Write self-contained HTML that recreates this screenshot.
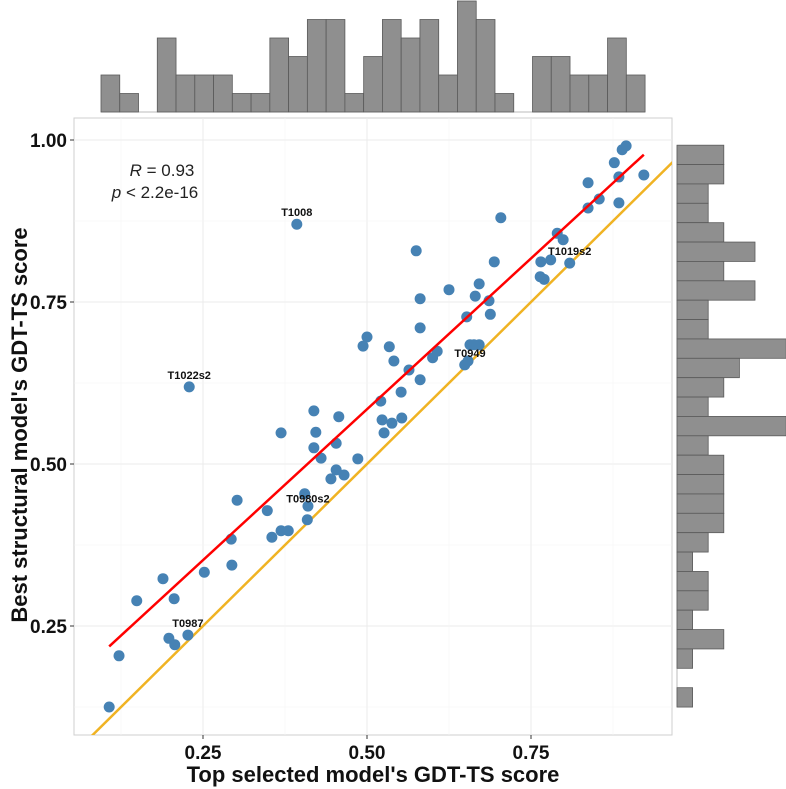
<!DOCTYPE html>
<html><head><meta charset="utf-8"><style>
body{margin:0;background:#fff;}
svg{display:block;font-family:"Liberation Sans",Arial,sans-serif;}
</style></head><body>
<svg id="c" width="786" height="789" viewBox="0 0 786 789"></svg>
<script>
const xs=[.107,.122,.149,.189,.198,.206,.207,.227,.252,.293,.294,.302,.348,.355,.369,.380,.409,.410,.229,.393,
.369,.419,.422,.419,.430,.457,.453,.453,.445,.465,.486,.405,
.500,.494,.534,.541,.581,.564,.581,.600,.552,.521,.523,.538,.553,.526,
.575,.607,.704,.694,.625,.581,.671,.665,.686,.688,.652,.657,.671,.663,.649,.654,
.790,.799,.765,.780,.809,.764,.770,.837,.854,.837,.884,.877,.884,.889,.895,.922];
const ys=[.125,.204,.289,.323,.231,.292,.221,.236,.333,.384,.344,.444,.428,.387,.397,.397,.414,.435,.619,.870,
.548,.582,.549,.525,.509,.573,.532,.491,.477,.483,.508,.454,
.696,.682,.681,.659,.710,.645,.630,.664,.611,.597,.568,.563,.571,.548,
.829,.674,.880,.812,.769,.755,.778,.759,.752,.731,.727,.684,.684,.684,.653,.659,
.856,.846,.812,.815,.810,.789,.785,.934,.909,.895,.903,.965,.943,.985,.991,.946];
const labelNames=["T1008","T1022s2","T0980s2","T0987","T0949","T1019s2"];
const labelX=[.393,.229,.410,.227,.657,.809];
const labelY=[.870,.619,.428,.236,.653,.810];
const topCounts=[2,1,0,4,2,2,2,1,1,4,3,5,5,1,3,5,4,5,2,6,5,1,0,3,3,2,2,4,2];
const rightCounts=[3,3,2,2,3,5,3,5,2,2,7,4,3,2,7,2,3,3,3,3,2,1,2,2,1,3,1,0,1];
const xTicks=[0.25,0.5,0.75];
const yTicks=[0.25,0.5,0.75,1.0];
const xTickLabels=["0.25","0.50","0.75"];
const yTickLabels=["0.25","0.50","0.75","1.00"];

const NS="http://www.w3.org/2000/svg";
const svg=document.getElementById('c');
const PL=74,PR=672,PT=118,PB=735;
const sx=v=>39+v*656, sy=v=>788-v*648;
function mk(t,a,p){const e=document.createElementNS(NS,t);for(const k in a)e.setAttribute(k,a[k]);(p||svg).appendChild(e);return e;}

const panel=mk('rect',{x:PL,y:PT,width:PR-PL,height:PB-PT,fill:'#fff',stroke:'#cfcfcf','stroke-width':1});


const grid=mk('g',{});


for(let v=0.125;v<1.01;v+=0.125){
  const major=Math.abs(v*4-Math.round(v*4))<1e-6;
  const X=sx(v); if(X>PL&&X<PR) mk('line',{x1:X,x2:X,y1:PT,y2:PB,stroke:major?'#ebebeb':'#f5f5f5','stroke-width':major?1:0.6},grid);
  const Y=sy(v); if(Y>PT&&Y<PB) mk('line',{x1:PL,x2:PR,y1:Y,y2:Y,stroke:major?'#ebebeb':'#f5f5f5','stroke-width':major?1:0.6},grid);
}
const defs=mk('defs',{});
const cp=mk('clipPath',{id:'pc'},defs);
mk('rect',{x:PL,y:PT,width:PR-PL,height:PB-PT},cp);

const idl=mk('line',{x1:sx(0),y1:sy(0),x2:sx(1.1),y2:sy(1.1),stroke:'#f0b323','stroke-width':2.5,'clip-path':'url(#pc)'});



const pts=mk('g',{});


for(let i=0;i<xs.length;i++){
  const c=mk('circle',{cx:sx(xs[i]),cy:sy(ys[i]),r:5.5,fill:'#4682b4'},pts);
  
  
}
let n=xs.length,mx=0,my=0;for(let i=0;i<n;i++){mx+=xs[i];my+=ys[i];}mx/=n;my/=n;
let sxy=0,sxx=0;for(let i=0;i<n;i++){sxy+=(xs[i]-mx)*(ys[i]-my);sxx+=(xs[i]-mx)**2;}
const b=sxy/sxx,a=my-b*mx;const x0=Math.min(...xs),x1=Math.max(...xs);
const reg=mk('line',{x1:sx(x0),y1:sy(a+b*x0),x2:sx(x1),y2:sy(a+b*x1),stroke:'#ff0000','stroke-width':2.5});



for(let i=0;i<labelNames.length;i++){
  const t=mk('text',{x:sx(labelX[i]),y:sy(labelY[i])-8,'text-anchor':'middle','font-size':11,'font-weight':'bold',fill:'#111'});
  t.textContent=labelNames[i];
  
  
}
const st=mk('text',{x:162,y:176,'text-anchor':'middle','font-size':17,fill:'#222'});
st.innerHTML='<tspan font-style="italic">R</tspan> = 0.93';


const st2=mk('text',{x:155,y:198,'text-anchor':'middle','font-size':17,fill:'#222'});
st2.innerHTML='<tspan font-style="italic">p</tspan> &lt; 2.2e-16';



for(let i=0;i<xTicks.length;i++){
  const X=sx(xTicks[i]);
  mk('line',{x1:X,x2:X,y1:PB,y2:PB+4,stroke:'#333'});
  const t=mk('text',{x:X,y:PB+24,'text-anchor':'middle','font-size':19,'font-weight':'bold',fill:'#111'});
  t.textContent=xTickLabels[i];
  
  
}
for(let i=0;i<yTicks.length;i++){
  const Y=sy(yTicks[i]);
  mk('line',{x1:PL-4,x2:PL,y1:Y,y2:Y,stroke:'#333'});
  const t=mk('text',{x:PL-7,y:Y+7,'text-anchor':'end','font-size':19,'font-weight':'bold',fill:'#111'});
  t.textContent=yTickLabels[i];
  
  
}
const xt=mk('text',{x:373,y:782,'text-anchor':'middle','font-size':22,'font-weight':'bold',fill:'#111'});
xt.textContent="Top selected model's GDT-TS score";


const yt=mk('text',{x:0,y:0,'text-anchor':'middle','font-size':22,'font-weight':'bold',fill:'#111',transform:'translate(27,425) rotate(-90)'});
yt.textContent="Best structural model's GDT-TS score";



const th=mk('g',{});


const tStart=0.0945,tW=0.0286,tUnit=18.5,tBase=112;
mk('line',{x1:sx(tStart),x2:sx(tStart+tW*topCounts.length),y1:tBase,y2:tBase,stroke:'#bbb'},th);
for(let i=0;i<topCounts.length;i++){
  if(!topCounts[i])continue;
  const h=topCounts[i]*tUnit;
  const r=mk('rect',{x:sx(tStart+i*tW),y:tBase-h,width:tW*656,height:h,fill:'#8f8f8f',stroke:'#5a5a5a','stroke-width':0.8},th);
  
  
}
const rh=mk('g',{});


const rTop=0.992,rW=0.0299,rUnit=15.6,rBase=677;
mk('line',{x1:rBase,x2:rBase,y1:sy(rTop),y2:sy(rTop-rW*rightCounts.length),stroke:'#bbb'},rh);
for(let i=0;i<rightCounts.length;i++){
  if(!rightCounts[i])continue;
  const w=rightCounts[i]*rUnit;
  const r=mk('rect',{x:rBase,y:sy(rTop-i*rW),width:w,height:rW*648,fill:'#8f8f8f',stroke:'#5a5a5a','stroke-width':0.8},rh);
  
  
}
</script>
</body></html>
